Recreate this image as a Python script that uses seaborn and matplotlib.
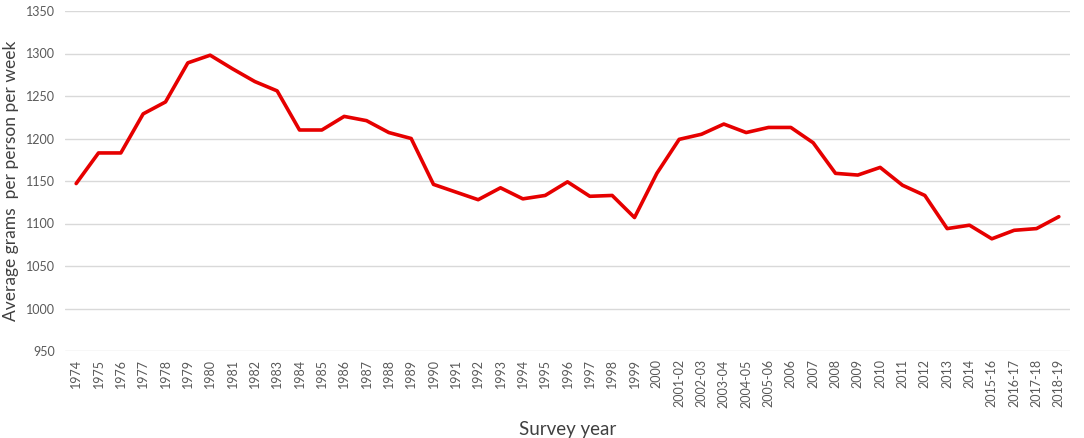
import pandas as pd
import seaborn as sns
import matplotlib.pyplot as plt

# Survey years and average grams per person per week
years = [str(y) for y in range(1974, 2001)] + [
    '2001-02', '2002-03', '2003-04', '2004-05', '2005-06',
    '2006', '2007', '2008', '2009', '2010', '2011', '2012', '2013', '2014',
    '2015-16', '2016-17', '2017-18', '2018-19']
grams = [1147, 1183, 1183, 1229, 1243, 1289, 1298, 1282, 1267, 1256,
         1210, 1210, 1226, 1221, 1207, 1200, 1146, 1137, 1128, 1142,
         1129, 1133, 1149, 1132, 1133, 1107, 1159,
         1199, 1205, 1217, 1207, 1213,
         1213, 1195, 1159, 1157, 1166, 1145, 1133, 1094, 1098,
         1082, 1092, 1094, 1108]
y_ticks = list(range(950, 1351, 50))

df = pd.DataFrame({'Year': years, 'Grams': grams})

sns.set_theme(style='white')
plt.rcParams['font.family'] = ['Lato', 'DejaVu Sans']

fig = plt.figure(figsize=(10.84, 4.38), dpi=100)
ax = fig.add_axes([65 / 1084, 1 - 351 / 438, 1005 / 1084, 340 / 438])

sns.lineplot(data=df, x='Year', y='Grams', sort=False, color='#e60000',
             linewidth=2.6, ax=ax)

ax.set_xlim(-0.5, len(years) - 0.5)
ax.set_ylim(950, 1350)
ax.set_yticks(y_ticks)
ax.grid(True, axis='y', color='#d9d9d9', linewidth=1)
ax.set_axisbelow(True)
for s in ax.spines.values():
    s.set_visible(False)

ax.tick_params(axis='x', labelrotation=90, labelsize=9, colors='#595959',
               length=0, pad=6)
ax.tick_params(axis='y', labelsize=9, colors='#595959', length=0, pad=7)

ax.set_xlabel('Survey year', fontsize=13.5, color='#404040', labelpad=10)
ax.set_ylabel('Average grams  per person per week', fontsize=12.5,
              color='#404040', labelpad=5)

fig.savefig('out.png', dpi=100)
